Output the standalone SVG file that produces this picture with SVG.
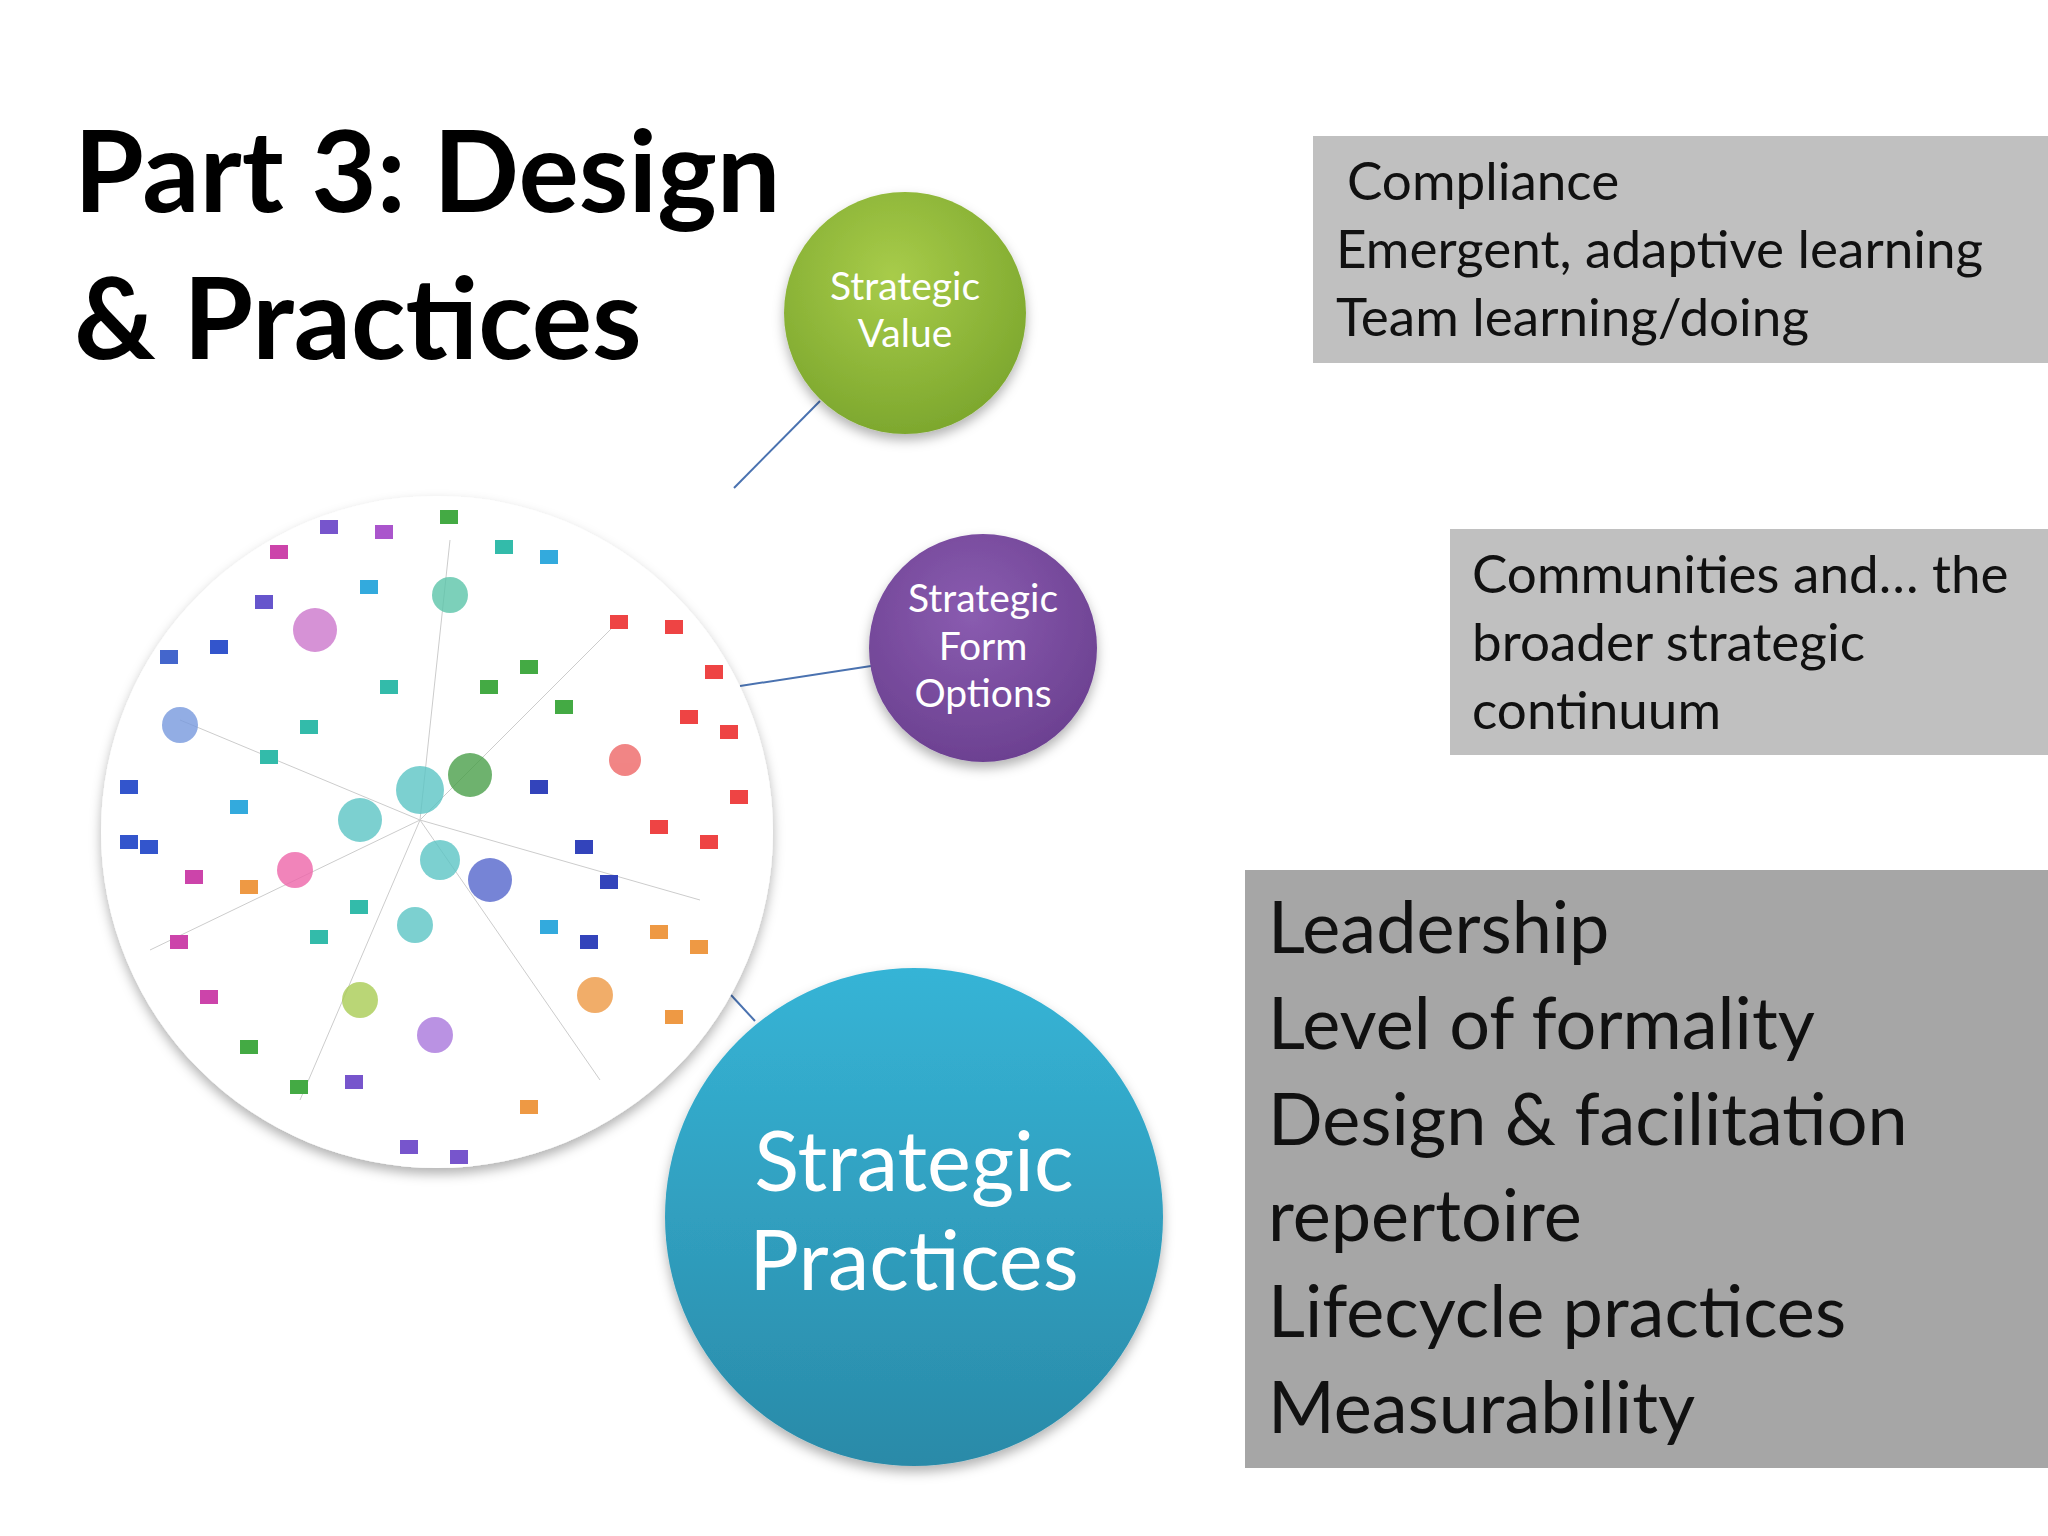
<svg xmlns="http://www.w3.org/2000/svg" width="2048" height="1536" viewBox="0 0 2048 1536">
<defs>
<radialGradient id="gG" cx="0.45" cy="0.35" r="0.7"><stop offset="0" stop-color="#a8cc4a"/><stop offset="1" stop-color="#7aa52c"/></radialGradient>
<radialGradient id="gP" cx="0.45" cy="0.35" r="0.7"><stop offset="0" stop-color="#8a5cb0"/><stop offset="1" stop-color="#6a3f8f"/></radialGradient>
<linearGradient id="gB" x1="0" y1="0" x2="0" y2="1"><stop offset="0" stop-color="#36b4d6"/><stop offset="1" stop-color="#2a8aa8"/></linearGradient>
<filter id="sh" x="-20%" y="-20%" width="140%" height="140%"><feDropShadow dx="0" dy="6" stdDeviation="6" flood-color="#000" flood-opacity="0.3"/></filter>
</defs>
<style>
.t{font-family:Lato,"Open Sans",sans-serif}
.w{fill:#fff;text-anchor:middle}
.b{fill:#111}
.c{stroke:#4a72b0;stroke-width:2;fill:none}
.n{stroke:#ccc;stroke-width:1}
</style>
<rect width="2048" height="1536" fill="#fff"/>
<g id="title"><text class="t" x="74" y="212" font-size="113" font-weight="bold" fill="#000">Part 3: Design</text>
<text class="t" x="74" y="359" font-size="113" font-weight="bold" fill="#000">&amp; Practices</text></g>
<g id="connectors">
<line class="c" x1="734" y1="488" x2="820" y2="401"/>
<line class="c" x1="740" y1="686" x2="871" y2="666"/>
<line class="c" x1="731" y1="995" x2="755" y2="1021"/>
</g>
<g id="network">
<circle cx="437" cy="832" r="336" fill="#fff" filter="url(#sh)"/>
<g class="n">
<line x1="420" y1="820" x2="180" y2="720"/><line x1="420" y1="820" x2="620" y2="620"/><line x1="420" y1="820" x2="700" y2="900"/><line x1="420" y1="820" x2="300" y2="1100"/><line x1="420" y1="820" x2="450" y2="540"/><line x1="420" y1="820" x2="150" y2="950"/><line x1="420" y1="820" x2="600" y2="1080"/>
</g>
<g opacity="0.8">
<circle cx="360" cy="820" r="22" fill="#5cc5c5"/><circle cx="420" cy="790" r="24" fill="#5cc5c5"/><circle cx="440" cy="860" r="20" fill="#5cc5c5"/><circle cx="470" cy="775" r="22" fill="#4aa04a"/><circle cx="490" cy="880" r="22" fill="#5566cc"/><circle cx="315" cy="630" r="22" fill="#cc77cc"/><circle cx="180" cy="725" r="18" fill="#7799dd"/><circle cx="450" cy="595" r="18" fill="#5cc5aa"/><circle cx="625" cy="760" r="16" fill="#ee6666"/><circle cx="595" cy="995" r="18" fill="#ee9944"/><circle cx="435" cy="1035" r="18" fill="#aa77dd"/><circle cx="360" cy="1000" r="18" fill="#aacc55"/><circle cx="295" cy="870" r="18" fill="#ee66aa"/><circle cx="415" cy="925" r="18" fill="#5cc5c5"/>
</g>
<g>
<rect x="320" y="520" width="18" height="14" fill="#7755cc"/><rect x="375" y="525" width="18" height="14" fill="#aa55cc"/><rect x="440" y="510" width="18" height="14" fill="#44aa44"/><rect x="495" y="540" width="18" height="14" fill="#33bbaa"/><rect x="540" y="550" width="18" height="14" fill="#33aadd"/><rect x="270" y="545" width="18" height="14" fill="#cc44aa"/><rect x="255" y="595" width="18" height="14" fill="#6655cc"/><rect x="210" y="640" width="18" height="14" fill="#3355cc"/><rect x="160" y="650" width="18" height="14" fill="#4466cc"/><rect x="610" y="615" width="18" height="14" fill="#ee4444"/><rect x="665" y="620" width="18" height="14" fill="#ee4444"/><rect x="705" y="665" width="18" height="14" fill="#ee4444"/><rect x="680" y="710" width="18" height="14" fill="#ee4444"/><rect x="720" y="725" width="18" height="14" fill="#ee4444"/><rect x="730" y="790" width="18" height="14" fill="#ee4444"/><rect x="650" y="820" width="18" height="14" fill="#ee4444"/><rect x="700" y="835" width="18" height="14" fill="#ee4444"/><rect x="520" y="660" width="18" height="14" fill="#44aa44"/><rect x="555" y="700" width="18" height="14" fill="#44aa44"/><rect x="480" y="680" width="18" height="14" fill="#44aa44"/><rect x="575" y="840" width="18" height="14" fill="#3344bb"/><rect x="600" y="875" width="18" height="14" fill="#3344bb"/><rect x="540" y="920" width="18" height="14" fill="#33aadd"/><rect x="580" y="935" width="18" height="14" fill="#3344bb"/><rect x="650" y="925" width="18" height="14" fill="#ee9944"/><rect x="690" y="940" width="18" height="14" fill="#ee9944"/><rect x="665" y="1010" width="18" height="14" fill="#ee9944"/><rect x="120" y="780" width="18" height="14" fill="#3355cc"/><rect x="140" y="840" width="18" height="14" fill="#3355cc"/><rect x="120" y="835" width="18" height="14" fill="#3355cc"/><rect x="185" y="870" width="18" height="14" fill="#cc44aa"/><rect x="170" y="935" width="18" height="14" fill="#cc44aa"/><rect x="200" y="990" width="18" height="14" fill="#cc44aa"/><rect x="240" y="880" width="18" height="14" fill="#ee9944"/><rect x="240" y="1040" width="18" height="14" fill="#44aa44"/><rect x="290" y="1080" width="18" height="14" fill="#44aa44"/><rect x="345" y="1075" width="18" height="14" fill="#7755cc"/><rect x="400" y="1140" width="18" height="14" fill="#7755cc"/><rect x="450" y="1150" width="18" height="14" fill="#7755cc"/><rect x="520" y="1100" width="18" height="14" fill="#ee9944"/><rect x="310" y="930" width="18" height="14" fill="#33bbaa"/><rect x="350" y="900" width="18" height="14" fill="#33bbaa"/><rect x="260" y="750" width="18" height="14" fill="#33bbaa"/><rect x="300" y="720" width="18" height="14" fill="#33bbaa"/><rect x="230" y="800" width="18" height="14" fill="#33aadd"/><rect x="530" y="780" width="18" height="14" fill="#3344bb"/><rect x="380" y="680" width="18" height="14" fill="#33bbaa"/><rect x="360" y="580" width="18" height="14" fill="#33aadd"/>
</g>
</g>
<g id="strategic-value"><circle cx="905" cy="313" r="121" fill="url(#gG)" filter="url(#sh)"/>
<text class="t w" x="905" y="300" font-size="39">Strategic</text><text class="t w" x="905" y="347" font-size="39">Value</text></g>
<g id="strategic-form"><circle cx="983" cy="648" r="114" fill="url(#gP)" filter="url(#sh)"/>
<text class="t w" x="983" y="612" font-size="39">Strategic</text><text class="t w" x="983" y="660" font-size="39">Form</text><text class="t w" x="983" y="707" font-size="39">Options</text></g>
<g id="strategic-practices"><circle cx="914" cy="1217" r="249" fill="url(#gB)" filter="url(#sh)"/>
<text class="t w" x="914" y="1191" font-size="83">Strategic</text><text class="t w" x="914" y="1290" font-size="83">Practices</text></g>
<g id="box1"><rect x="1313" y="136" width="735" height="227" fill="#c0c0c0"/>
<text class="t b" font-size="53"><tspan x="1347" y="200">Compliance</tspan><tspan x="1336" y="268">Emergent, adaptive learning</tspan><tspan x="1336" y="336">Team learning/doing</tspan></text></g>
<g id="box2"><rect x="1450" y="529" width="598" height="226" fill="#c0c0c0"/>
<text class="t b" font-size="53"><tspan x="1472" y="593">Communities and… the</tspan><tspan x="1472" y="661">broader strategic</tspan><tspan x="1472" y="729">continuum</tspan></text></g>
<g id="box3"><rect x="1245" y="870" width="803" height="598" fill="#a6a6a6"/>
<text class="t b" font-size="72"><tspan x="1268" y="953">Leadership</tspan><tspan x="1268" y="1049">Level of formality</tspan><tspan x="1268" y="1145">Design &amp; facilitation</tspan><tspan x="1268" y="1241">repertoire</tspan><tspan x="1268" y="1337">Lifecycle practices</tspan><tspan x="1268" y="1433">Measurability</tspan></text></g>
</svg>
